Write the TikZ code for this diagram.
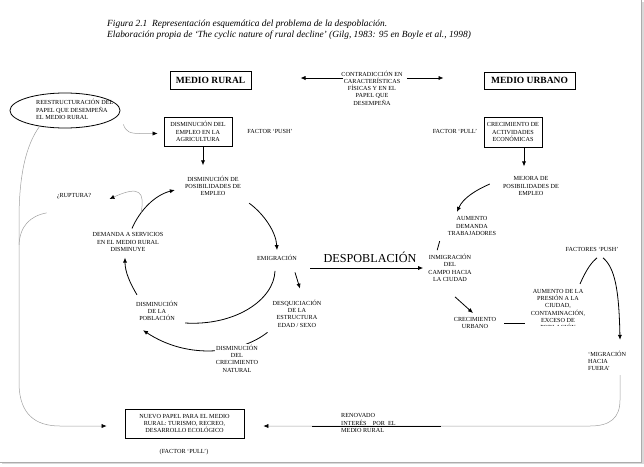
\documentclass[tikz,border=0pt]{standalone}
\usepackage{fontspec}
\setmainfont{Liberation Serif}
\usetikzlibrary{shapes.geometric,arrows.meta,backgrounds}
\begin{document}
\begin{tikzpicture}[x=1pt,y=-1pt,
  lbl/.style={font=\fontsize{6.2}{7.3}\selectfont, align=center, inner sep=1pt},
  boxn/.style={lbl, draw, line width=0.8pt, inner sep=2pt},
  hbox/.style={draw, line width=1pt, font=\fontsize{9.5}{11}\selectfont\bfseries, inner sep=2pt},
  arr/.style={-{Latex[length=5pt,width=4.2pt]}, line width=0.8pt},
  gline/.style={draw=gray!75, line width=0.5pt},
  garr/.style={gline, -{Latex[length=5pt,width=4.2pt,black]}},
  plain/.style={line width=0.8pt}
]
\useasboundingbox (0,0) rectangle (644,466);
% frame shadow
\draw[gray!30, line width=1.4pt] (643,2) -- (643,463.5) -- (2,463.5);
\draw[gray!65, line width=1pt] (641.5,0) -- (641.5,462) -- (0,462);

% title
\node[anchor=west, align=left, inner sep=0, font=\fontsize{9.4}{11}\selectfont\itshape] (title) at (107,29.5)
  {Figura 2.1\ \ Representación esquemática del problema de la despoblación.\\Elaboración propia de ‘The cyclic nature of rural decline’ (Gilg, 1983: 95 en Boyle et al., 1998)};

% headers
\node[hbox, minimum width=81pt, minimum height=18pt] (medR) at (210.5,80) {MEDIO RURAL};
\node[hbox, minimum width=91pt, minimum height=17pt] (medU) at (529.5,80.5) {MEDIO URBANO};
\node[lbl] (contra) at (372,88) {CONTRADICCIÓN EN\\CARACTERÍSTICAS\\FÍSICAS Y EN EL\\PAPEL QUE\\DESEMPEÑA};

% ellipse
\node[draw, ellipse, line width=0.8pt, minimum width=110pt, minimum height=35pt] (ell) at (65,110.5) {};
\node[lbl, align=left, anchor=west] (reest) at (35,109.5) {REESTRUCTURACIÓN DEL\\PAPEL QUE DESEMPEÑA\\EL MEDIO RURAL};

% boxes and labels
\node[boxn, minimum width=68pt, minimum height=29pt] (dis1) at (198,131.5) {DISMINUCIÓN DEL\\EMPLEO EN LA\\AGRICULTURA};
\node[lbl] (push1) at (270,131) {FACTOR ‘PUSH’};
\node[lbl] (pull1) at (455,131) {FACTOR ‘PULL’};
\node[boxn, minimum width=58pt, minimum height=30pt] (crec) at (513,132) {CRECIMIENTO DE\\ACTIVIDADES\\ECONÓMICAS};
\node[lbl] (posib) at (213,186) {DISMINUCIÓN DE\\POSIBILIDADES DE\\EMPLEO};
\node[lbl] (mejora) at (531,186) {MEJORA DE\\POSIBILIDADES DE\\EMPLEO};
\node[lbl] (rupt) at (74,196) {¿RUPTURA?};
\node[lbl] (aumdem) at (472,226) {AUMENTO\\DEMANDA\\TRABAJADORES};
\node[lbl] (demanda) at (128,242) {DEMANDA A SERVICIOS\\EN EL MEDIO RURAL\\DISMINUYE};
\node[lbl] (fpush2) at (592,249) {FACTORES ‘PUSH’};
\node[lbl] (emig) at (277,258) {EMIGRACIÓN};
\node[font=\fontsize{12.2}{14}\selectfont, inner sep=1pt] (despo) at (370,257) {DESPOBLACIÓN};
\node[lbl] (inmig) at (450,268) {INMIGRACIÓN\\DEL\\CAMPO HACIA\\LA CIUDAD};
\node[lbl] (dispob) at (157,311) {DISMINUCIÓN\\DE LA\\POBLACIÓN};
\node[lbl] (desq) at (297,313.5) {DESQUICIACIÓN\\DE LA\\ESTRUCTURA\\EDAD / SEXO};
\begin{scope}
  \clip (500,280) rectangle (610,325.5);
  \node[lbl] (aumpres) at (558,309.5) {AUMENTO DE LA\\PRESIÓN A LA\\CIUDAD,\\CONTAMINACIÓN,\\EXCESO DE\\POBLACIÓN};
\end{scope}
\node[lbl] (crecurb) at (475,323) {CRECIMIENTO\\URBANO};
\node[lbl, align=left, anchor=west] (migr) at (587,361) {‘MIGRACIÓN\\HACIA\\FUERA’};
\node[lbl, fill=white] (discrec) at (237,358.5) {DISMINUCIÓN\\DEL\\CRECIMIENTO\\NATURAL};
\node[boxn, minimum width=119pt, minimum height=29pt] (nuevo) at (184.5,423.5) {NUEVO PAPEL PARA EL MEDIO\\RURAL: TURISMO, RECREO,\\DESARROLLO ECOLÓGICO};
\node[lbl] (fpull) at (184,452) {(FACTOR ‘PULL’)};
\node[lbl, align=left, anchor=west] (renov) at (340,423) {RENOVADO\\INTERÉS\quad POR\ \ EL\\MEDIO RURAL};

\begin{pgfonlayer}{background}
% contradiction arrows
\draw[arr, shorten <=-3pt, shorten >=49pt] ([yshift=2pt]contra.west |- medR.east) -- ([yshift=2pt]medR.east);
\draw[arr, shorten <=3pt, shorten >=40pt] ([yshift=2.5pt]contra.east |- medU.west) -- ([yshift=2.5pt]medU.west);
% ellipse to first box
\draw[garr] ([xshift=3pt,yshift=-14pt]ell.east) .. controls (126,132) and (130,133.5) .. (140,133.5) -- ([xshift=-6pt,yshift=-2pt]dis1.west);
% vertical arrows
\draw[arr, shorten >=9.5pt] ([xshift=5pt]dis1.south) -- ([xshift=5pt]dis1.south |- posib.north);
\draw[arr, shorten >=9pt] ([xshift=11pt]crec.south) -- ([xshift=11pt]crec.south |- mejora.north);
% rural cycle
\draw[arr] ([xshift=7pt,yshift=-6pt]posib.south east) .. controls (264,214) and (276,232) .. ([yshift=4pt]emig.north);
\draw[plain] ([xshift=-2pt,yshift=-9pt]emig.south) .. controls (274,300) and (235,326) .. ([xshift=6pt,yshift=-12pt]dispob.east);
\draw[arr] ([xshift=2pt,yshift=5pt]dispob.north west) .. controls (130,283) and (125,272) .. ([xshift=-3pt,yshift=-5pt]demanda.south);
\draw[arr] ([xshift=4pt,yshift=3pt]demanda.north) .. controls (140,210) and (155,195) .. coordinate[pos=0.3] (rb) ([xshift=-9pt,yshift=-4pt]posib.west);
\draw[garr] (rb) .. controls (145,192) and (140,185) .. ([xshift=17pt,yshift=-3pt]rupt.east);
\draw[arr] ([xshift=18pt,yshift=-10.5pt]emig.south) -- ([xshift=3pt,yshift=10pt]desq.north);
\draw[arr] ([xshift=-4pt,yshift=-4pt]desq.south west) .. controls (240,354) and (188,360) .. ([xshift=-14pt,yshift=-8pt]dispob.south);
% left long curve
\draw[garr] (ell.212) .. controls (26,145) and (19,175) .. (19,220) -- coordinate[pos=0.15] (lj) (19,385) .. controls (20,414) and (35,426) .. (60,426) -- ([xshift=-18pt,yshift=-2.5pt]nuevo.west);
\draw[gline] ([xshift=-9pt,yshift=-13pt]rupt.south west) .. controls (30,216) and (20,226) .. (lj);
% despoblacion
\draw[arr, shorten <=12pt, shorten >=4pt] (emig.east |- inmig.west) -- (inmig.west);
% urban cycle
\draw[arr] ([xshift=-12pt,yshift=2pt]mejora.west) .. controls (476,190) and (463,198) .. ([xshift=-15pt,yshift=3.5pt]aumdem.north);
\draw[plain] ([xshift=-7pt,yshift=-4.5pt]aumdem.south west) -- ([xshift=10pt,yshift=3pt]inmig.north west);
\draw[arr] ([xshift=5pt,yshift=-14pt]inmig.south) -- ([xshift=-2pt,yshift=3pt]crecurb.north);
\draw[plain, shorten <=7pt, shorten >=5pt] (crecurb.east) -- (crecurb.east -| aumpres.west);
\draw[plain] ([xshift=22pt,yshift=4pt]aumpres.north) .. controls (587,268) and (592,262) .. ([xshift=5pt,yshift=-5.5pt]fpush2.south);
\draw[arr] ([xshift=11pt,yshift=-5.5pt]fpush2.south) .. controls (615,268) and (619,290) .. ([xshift=33pt,yshift=10pt]migr.north west);
\draw[garr] ([xshift=33pt,yshift=-3pt]migr.south west) -- (620,400) .. controls (620,418) and (610,426) .. (590,426) -- ([xshift=19pt,yshift=-2.5pt]nuevo.east);
\draw[line width=0.9pt] ([xshift=-28pt,yshift=-3pt]renov.west) -- ++(129,0);
\end{pgfonlayer}
\end{tikzpicture}
\end{document}
